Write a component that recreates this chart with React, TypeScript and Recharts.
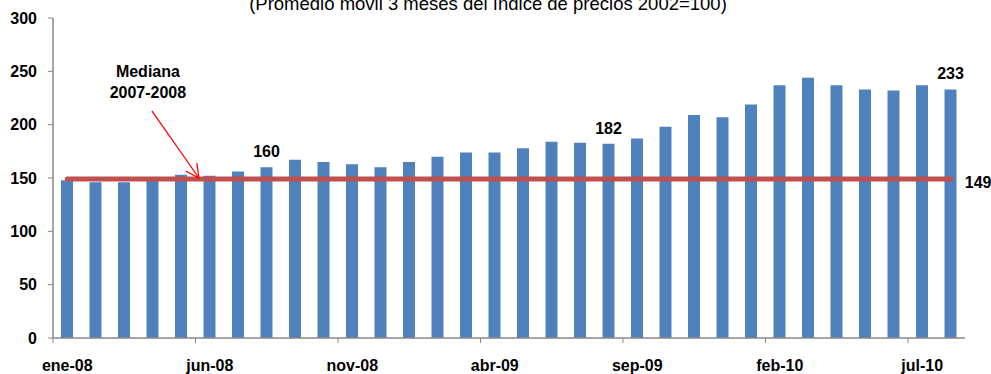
import React from 'react';
import { ComposedChart, Bar, Line, XAxis, YAxis, LabelList } from 'recharts';

// Monthly categories, Jan 2008 – Aug 2010
const meses = [
  'ene-08', 'feb-08', 'mar-08', 'abr-08', 'may-08', 'jun-08', 'jul-08', 'ago-08',
  'sep-08', 'oct-08', 'nov-08', 'dic-08', 'ene-09', 'feb-09', 'mar-09', 'abr-09',
  'may-09', 'jun-09', 'jul-09', 'ago-09', 'sep-09', 'oct-09', 'nov-09', 'dic-09',
  'ene-10', 'feb-10', 'mar-10', 'abr-10', 'may-10', 'jun-10', 'jul-10', 'ago-10',
];

// 3-month moving average of the price index (2002=100)
const indice = [
  148, 146, 146, 149, 153, 152, 156, 160,
  167, 165, 163, 160, 165, 170, 174, 174,
  178, 184, 183, 182, 187, 198, 209, 207,
  219, 237, 244, 237, 233, 232, 237, 233,
];

// Median of 2007-2008
const mediana = 149;

// Bars whose value is printed above them
const etiquetados = ['ago-08', 'ago-09', 'ago-10'];

const yTicks = [0, 50, 100, 150, 200, 250, 300];
const Y_MAX = 300;

const data = meses.map((mes, i) => ({ mes, indice: indice[i], mediana }));

// Layout
const W = 991;
const H = 374;
const MARGIN = { top: 18, right: 26, left: 0, bottom: 0 };
const Y_AXIS_W = 53;
const X_AXIS_H = 36;
const PLOT_LEFT = MARGIN.left + Y_AXIS_W;
const PLOT_TOP = MARGIN.top;
const PLOT_W = W - PLOT_LEFT - MARGIN.right;
const PLOT_H = H - MARGIN.top - MARGIN.bottom - X_AXIS_H;
const BAND = PLOT_W / meses.length;

const FONT = "Arial, 'Liberation Sans', sans-serif";
const BAR_COLOR = '#4F81BD';
const LINE_COLOR = '#C0504D';
const AXIS_COLOR = '#898989';

// Helpers mapping category position / value to pixels for the annotation
const xAt = (pos: number) => PLOT_LEFT + pos * BAND;
const yAt = (v: number) => PLOT_TOP + PLOT_H * (1 - v / Y_MAX);

const XTick = (props: any) => {
  const { x, payload } = props;
  const axisY = PLOT_TOP + PLOT_H;
  const bx = x - BAND / 2;
  return (
    <g>
      <line x1={bx} x2={bx} y1={axisY} y2={axisY + 5} stroke={AXIS_COLOR} strokeWidth={1} />
      <text
        x={x}
        y={axisY + 33}
        textAnchor="middle"
        fontFamily={FONT}
        fontWeight="bold"
        fontSize={16}
        fill="#000"
      >
        {payload.value}
      </text>
    </g>
  );
};

const BarValueLabel = (props: any) => {
  const { x, y, width, index, value } = props;
  if (!etiquetados.includes(meses[index])) return null;
  return (
    <text
      x={x + width / 2}
      y={y - 10}
      textAnchor="middle"
      fontFamily={FONT}
      fontWeight="bold"
      fontSize={16}
      fill="#000"
    >
      {value}
    </text>
  );
};

const MedianLabel = (props: any) => {
  const { x, y, index, value } = props;
  if (index !== meses.length - 1) return null;
  return (
    <text x={x + 14} y={y + 9} textAnchor="start" fontFamily={FONT} fontWeight="bold" fontSize={16} fill="#000">
      {value}
    </text>
  );
};

const Annotation = () => {
  const x1 = xAt(3.47);
  const y1 = yAt(213);
  const x2 = xAt(5.12);
  const y2 = yAt(150);
  const dx = x2 - x1;
  const dy = y2 - y1;
  const len = Math.hypot(dx, dy);
  const ux = dx / len;
  const uy = dy / len;
  const head = 15;
  const ang = (27 * Math.PI) / 180;
  const rot = (a: number) => ({
    x: x2 - head * (ux * Math.cos(a) - uy * Math.sin(a)),
    y: y2 - head * (ux * Math.sin(a) + uy * Math.cos(a)),
  });
  const h1 = rot(ang);
  const h2 = rot(-ang);
  const tx = xAt(3.33);
  return (
    <svg width={W} height={H} style={{ position: 'absolute', left: 0, top: 0, pointerEvents: 'none' }}>
      <text x={488} y={10} textAnchor="middle" fontFamily={FONT} fontSize={18.5} fill="#000">
        (Promedio movil 3 meses del índice de precios 2002=100)
      </text>
      <text x={tx} y={yAt(250) + 6} textAnchor="middle" fontFamily={FONT} fontWeight="bold" fontSize={16} fill="#000">
        Mediana
      </text>
      <text x={tx} y={yAt(231) + 6} textAnchor="middle" fontFamily={FONT} fontWeight="bold" fontSize={16} fill="#000">
        2007-2008
      </text>
      <line x1={x1} y1={y1} x2={x2} y2={y2} stroke="#FF0000" strokeWidth={1.3} />
      <polyline
        points={`${h1.x},${h1.y} ${x2},${y2} ${h2.x},${h2.y}`}
        fill="none"
        stroke="#FF0000"
        strokeWidth={1.3}
      />
    </svg>
  );
};

export default function App() {
  return (
    <div style={{ position: 'absolute', left: 0, top: 0, width: W, height: H, background: '#fff' }}>
      <ComposedChart width={W} height={H} data={data} margin={MARGIN}>
        <XAxis
          dataKey="mes"
          height={X_AXIS_H}
          interval={4}
          tickLine={false}
          axisLine={{ stroke: AXIS_COLOR, strokeWidth: 1.5 }}
          tick={<XTick />}
        />
        <YAxis
          width={Y_AXIS_W}
          domain={[0, Y_MAX]}
          ticks={yTicks}
          interval={0}
          tickSize={5}
          tickMargin={11}
          axisLine={{ stroke: AXIS_COLOR, strokeWidth: 1.5 }}
          tickLine={{ stroke: AXIS_COLOR }}
          tick={{ fontFamily: FONT, fontWeight: 'bold', fontSize: 16, fill: '#000' }}
        />
        <Bar dataKey="indice" fill={BAR_COLOR} barSize={12} isAnimationActive={false}>
          <LabelList dataKey="indice" content={<BarValueLabel />} />
        </Bar>
        <Line
          type="linear"
          dataKey="mediana"
          stroke={LINE_COLOR}
          strokeWidth={5}
          strokeLinecap="round"
          dot={false}
          activeDot={false}
          isAnimationActive={false}
        >
          <LabelList dataKey="mediana" content={<MedianLabel />} />
        </Line>
      </ComposedChart>
      <Annotation />
    </div>
  );
}
